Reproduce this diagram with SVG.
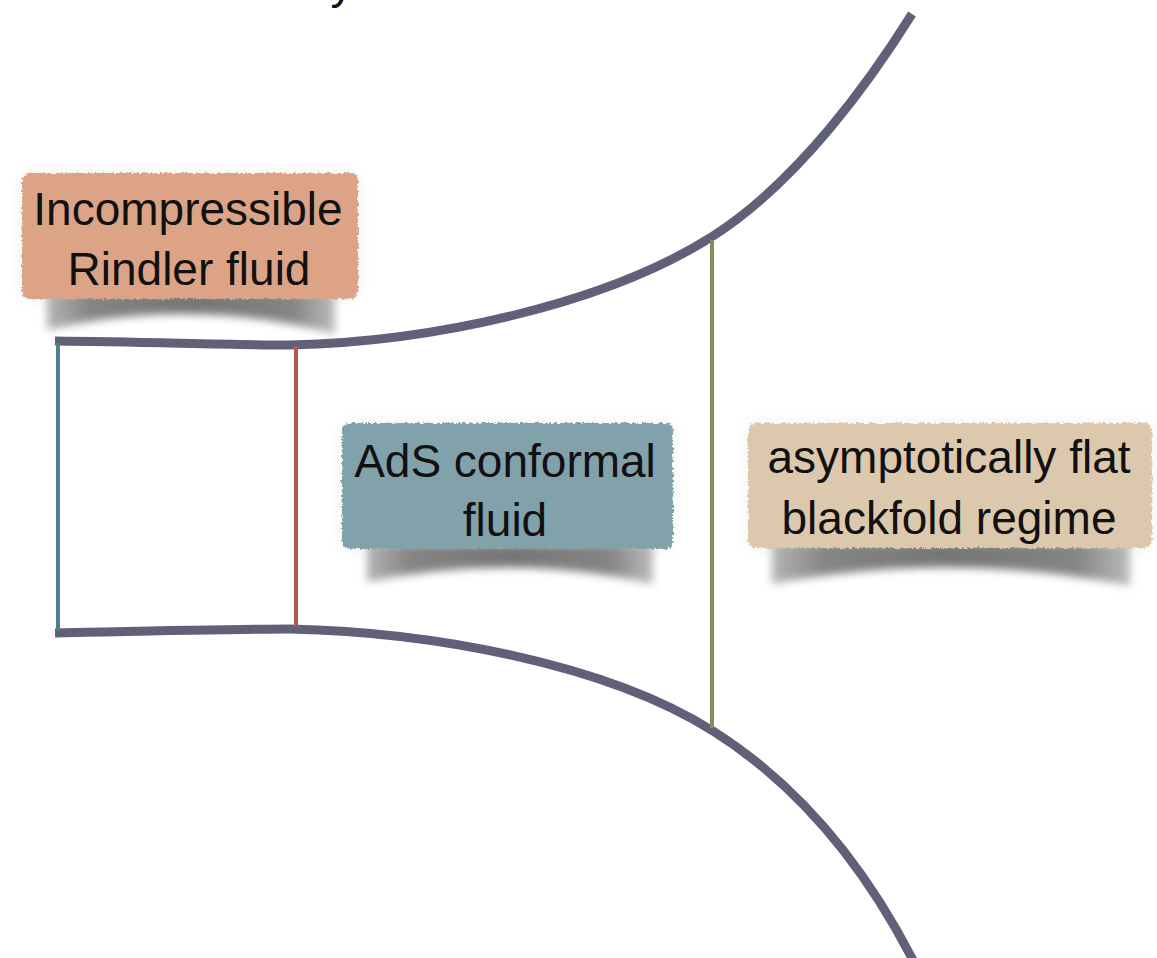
<svg xmlns="http://www.w3.org/2000/svg" width="1157" height="958" viewBox="0 0 1157 958">
  <style>
    .lbl { font-family: "Liberation Sans", Arial, sans-serif; font-size: 46px; fill: #111; text-anchor: middle; }
    .wall { fill: none; stroke: #606178; stroke-width: 9; stroke-linecap: butt; }
    .cut { fill: none; stroke-width: 4; }
    .shadow { fill: url(#shadowGrad); filter: url(#blur); opacity: 0.85; }
    .halo { fill: #000; opacity: 0.06; filter: url(#halo); }
  </style>
  <defs>
    <filter id="rough" x="-5%" y="-10%" width="110%" height="120%">
      <feTurbulence type="fractalNoise" baseFrequency="0.4" numOctaves="2" seed="3" result="n"/>
      <feDisplacementMap in="SourceGraphic" in2="n" scale="5" xChannelSelector="R" yChannelSelector="G"/>
    </filter>
    <filter id="blur" x="-10%" y="-30%" width="120%" height="160%">
      <feGaussianBlur stdDeviation="4"/>
    </filter>
    <filter id="halo" x="-20%" y="-20%" width="140%" height="140%">
      <feGaussianBlur stdDeviation="8"/>
    </filter>
    <linearGradient id="shadowGrad" x1="0" y1="0" x2="1" y2="0">
      <stop offset="0" stop-color="#a8a8a8"/>
      <stop offset="0.15" stop-color="#707070"/>
      <stop offset="0.5" stop-color="#5e5e5e"/>
      <stop offset="0.85" stop-color="#707070"/>
      <stop offset="1" stop-color="#b0b0b0"/>
    </linearGradient>
  </defs>
  <rect width="1157" height="958" fill="#ffffff"/>

  <text class="lbl" x="342" y="-2">y</text>

  <g id="connectors">
    <path id="upper-boundary" class="wall" d="M55,341 C150,342 230,345 290,345 C430,342 605,305 713,236 C800,180 872,78 912,14"/>
    <path id="lower-boundary" class="wall" d="M55,633 C150,631 230,629 290,629 C430,632 605,663 713,731 C800,786 868,870 918,970"/>
    <line id="cut-teal" class="cut" x1="58" y1="343" x2="58" y2="631" stroke="#4e7f8f"/>
    <line id="cut-red" class="cut" x1="296" y1="346" x2="296" y2="626" stroke="#b25b48"/>
    <line id="cut-olive" class="cut" x1="712" y1="240" x2="712" y2="728" stroke="#8b8a58"/>
  </g>

  <g id="node-rindler">
    <rect class="halo" x="22" y="173" width="336" height="126" rx="8"/>
    <path class="shadow" d="M47,292 L335,292 L335,334 Q190,296 47,330 Z"/>
    <rect x="22" y="173" width="336" height="126" rx="8" fill="#dca386" filter="url(#rough)"/>
    <text class="lbl" x="188" y="225">Incompressible</text>
    <text class="lbl" x="189" y="285">Rindler fluid</text>
  </g>

  <g id="node-ads">
    <rect class="halo" x="342" y="423" width="331" height="126" rx="8"/>
    <path class="shadow" d="M367,544 L653,544 L653,584 Q510,552 367,582 Z"/>
    <rect x="342" y="423" width="331" height="126" rx="8" fill="#82a2ab" filter="url(#rough)"/>
    <text class="lbl" x="505" y="477">AdS conformal</text>
    <text class="lbl" x="505" y="536">fluid</text>
  </g>

  <g id="node-flat">
    <rect class="halo" x="748" y="423" width="404" height="125" rx="8"/>
    <path class="shadow" d="M772,543 L1130,543 L1130,586 Q950,550 772,584 Z"/>
    <rect x="748" y="423" width="404" height="125" rx="8" fill="#dcc8ad" filter="url(#rough)"/>
    <text class="lbl" x="949" y="473">asymptotically flat</text>
    <text class="lbl" x="949" y="534">blackfold regime</text>
  </g>
</svg>
